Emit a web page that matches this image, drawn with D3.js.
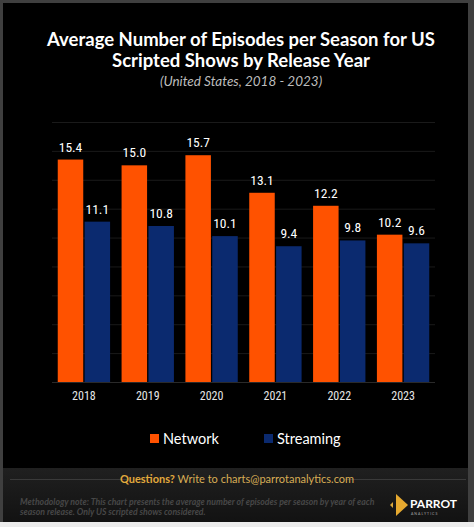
<!DOCTYPE html>
<html lang="en">
<head>
<meta charset="utf-8">
<title>Episodes per Season</title>
<script src="https://d3js.org/d3.v7.min.js" charset="utf-8"></script>
<style type="text/css">
    html, body { margin: 0; padding: 0; background: #3f3f3f; }
    svg { display: block; }
</style>
</head>
<body>
<script type="text/javascript">
    var years = ['2018', '2019', '2020', '2021', '2022', '2023'];
    var seriesNames = ['Network', 'Streaming'];
    var network = [15.4, 15.0, 15.7, 13.1, 12.2, 10.2];
    var streaming = [11.1, 10.8, 10.1, 9.4, 9.8, 9.6];
    var yTicks = [0, 2, 4, 6, 8, 10, 12, 14, 16, 18];
    var colors = ['#ff5200', '#0b2a6f'];

    var W = 474, H = 527;
    var condensed = '"Liberation Sans Narrow", "Roboto Condensed", "DejaVu Sans Condensed", sans-serif';
    var sans = 'Lato, "Open Sans", sans-serif';

    var svg = d3.select('body').append('svg').attr('width', W).attr('height', H);

    // frame
    svg.append('rect').attr('x', 0).attr('y', 0).attr('width', W).attr('height', H).style('fill', '#3f3f3f');
    svg.append('rect').attr('x', 0).attr('y', 522).attr('width', W).attr('height', 5).style('fill', '#ececec');
    svg.append('rect').attr('x', 3).attr('y', 3).attr('width', 465).attr('height', 519).style('fill', '#000');

    // footer panel
    var grad = svg.append('defs').append('linearGradient').attr('id', 'foot')
        .attr('x1', 0).attr('y1', 0).attr('x2', 0).attr('y2', 1);
    grad.append('stop').attr('offset', '0%').style('stop-color', '#202020');
    grad.append('stop').attr('offset', '100%').style('stop-color', '#121212');
    svg.append('rect').attr('x', 3).attr('y', 468).attr('width', 465).attr('height', 54).style('fill', 'url(#foot)');

    // titles
    svg.append('text').attr('x', 241).attr('y', 46).attr('text-anchor', 'middle')
        .style('font-family', sans).style('font-weight', 700).style('font-size', '18.5px').style('fill', '#fff')
        .text('Average Number of Episodes per Season for US');
    svg.append('text').attr('x', 241).attr('y', 67).attr('text-anchor', 'middle')
        .style('font-family', sans).style('font-weight', 700).style('font-size', '18.5px').style('fill', '#fff')
        .text('Scripted Shows by Release Year');
    svg.append('text').attr('x', 241).attr('y', 86).attr('text-anchor', 'middle')
        .style('font-family', sans).style('font-style', 'italic').style('font-size', '13.5px').style('fill', '#bdbdbd')
        .text('(United States, 2018 - 2023)');

    // scales
    var x0 = d3.scaleBand().domain(years).range([52, 435]).paddingInner(0.18).paddingOuter(0.09);
    var x1 = d3.scaleBand().domain(seriesNames).range([0, x0.bandwidth()]).paddingInner(0.05);
    var y = d3.scaleLinear().domain([0, 18]).range([382, 122]);

    // grid
    svg.append('g').selectAll('line').data(yTicks).enter().append('line')
        .attr('x1', 52).attr('x2', 435)
        .attr('y1', function (d) { return y(d) + 0.5; })
        .attr('y2', function (d) { return y(d) + 0.5; })
        .style('stroke', function (d) { return d === 0 ? '#2a2a2a' : '#1a1a1a'; })
        .style('stroke-width', 1);

    var data = years.map(function (yr, i) {
        return { year: yr, values: [
            { key: 'Network', value: network[i] },
            { key: 'Streaming', value: streaming[i] }
        ] };
    });

    var groups = svg.append('g').selectAll('g').data(data).enter().append('g')
        .attr('transform', function (d) { return 'translate(' + x0(d.year) + ',0)'; });

    groups.selectAll('rect').data(function (d) { return d.values; }).enter().append('rect')
        .attr('x', function (d) { return x1(d.key); })
        .attr('y', function (d) { return y(d.value); })
        .attr('width', x1.bandwidth())
        .attr('height', function (d) { return y(0) - y(d.value); })
        .style('fill', function (d, i) { return colors[i]; });

    groups.selectAll('text.val').data(function (d) { return d.values; }).enter().append('text')
        .attr('class', 'val')
        .attr('x', function (d) { return x1(d.key) + x1.bandwidth() / 2; })
        .attr('y', function (d) { return y(d.value) - 8; })
        .attr('text-anchor', 'middle')
        .style('font-family', condensed).style('font-size', '13.5px').style('fill', '#fff')
        .text(function (d) { return d.value.toFixed(1); });

    // x axis
    var xAxis = svg.append('g').attr('transform', 'translate(0,' + y(0) + ')')
        .call(d3.axisBottom(x0).tickSize(0).tickPadding(9));
    xAxis.select('.domain').remove();
    xAxis.selectAll('text').style('font-family', condensed).style('font-size', '12px').style('fill', '#e6e6e6');

    // legend
    var legend = svg.append('g');
    var lx = [150, 264];
    seriesNames.forEach(function (name, i) {
        legend.append('rect').attr('x', lx[i]).attr('y', 434).attr('width', 9).attr('height', 9).style('fill', colors[i]);
        legend.append('text').attr('x', lx[i] + 13).attr('y', 444)
            .style('font-family', sans).style('font-size', '14.5px').style('fill', '#fff').text(name);
    });

    // footer
    svg.append('line').attr('x1', 10).attr('x2', 128).attr('y1', 479.5).attr('y2', 479.5).style('stroke', '#3a3a3a');
    svg.append('line').attr('x1', 345).attr('x2', 466).attr('y1', 479.5).attr('y2', 479.5).style('stroke', '#3a3a3a');
    var q = svg.append('text').attr('x', 237).attr('y', 483).attr('text-anchor', 'middle')
        .style('font-family', sans).style('font-size', '11px').style('fill', '#d8ad55');
    q.append('tspan').style('font-weight', 700).style('fill', '#e2a93c').text('Questions?');
    q.append('tspan').text(' Write to charts@parrotanalytics.com');

    svg.append('text').attr('x', 20).attr('y', 505)
        .style('font-family', sans).style('font-style', 'italic').style('font-weight', 700)
        .style('font-size', '8.7px').style('fill', '#474747')
        .text('Methodology note: This chart presents the average number of episodes per season by year of each');
    svg.append('text').attr('x', 20).attr('y', 515)
        .style('font-family', sans).style('font-style', 'italic').style('font-weight', 700)
        .style('font-size', '8.7px').style('fill', '#474747')
        .text('season release. Only US scripted shows considered.');

    // logo
    var logo = svg.append('g');
    logo.append('path').attr('d', 'M390,505 l3,-3 v6 z').style('fill', '#d9a63a');
    logo.append('path').attr('d', 'M396,494 l12,11 l-12,11 z').style('fill', '#e6a92f');
    logo.append('text').attr('x', 410).attr('y', 508)
        .style('font-family', sans).style('font-weight', 700).style('font-size', '12px').style('fill', '#fff')
        .text('PARROT');
    logo.append('text').attr('x', 411).attr('y', 515)
        .style('font-family', sans).style('font-size', '3.5px').style('letter-spacing', '1px').style('fill', '#aaa')
        .text('ANALYTICS');
</script>
</body>
</html>
